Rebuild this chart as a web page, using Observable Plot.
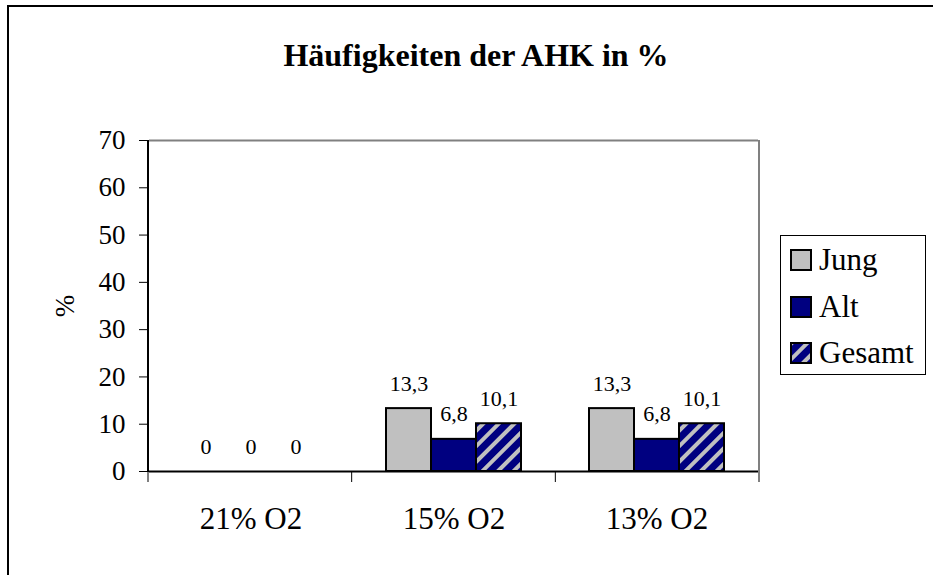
<!DOCTYPE html>
<html>
<head>
<meta charset="utf-8">
<script src="https://cdn.jsdelivr.net/npm/d3@7"></script>
<script src="https://cdn.jsdelivr.net/npm/@observablehq/plot@0.6"></script>
<style>
  html, body { margin: 0; padding: 0; background: #fff; overflow: hidden; }
  #page { position: relative; width: 933px; height: 575px; overflow: hidden; font-family: 'Liberation Serif', 'Times New Roman', serif; color: #000; }
  #outer-top { position: absolute; left: 7px; top: 5px; width: 926px; height: 2px; background: #000; }
  #outer-left { position: absolute; left: 7px; top: 5px; width: 2px; height: 570px; background: #000; }
  #chart { position: absolute; left: 0; top: 0; }
  #title { position: absolute; left: 0; width: 933px; top: 39px; text-align: center; font-weight: bold; font-size: 32px; line-height: 32px; white-space: nowrap; padding-left: 19px; box-sizing: border-box; }
  #legend { position: absolute; left: 780px; top: 235px; width: 146px; height: 140px; border: 1px solid #000; box-sizing: border-box; background: #fff; }
  .lg-row { position: absolute; left: 790px; height: 31px; font-size: 31px; line-height: 31px; white-space: nowrap; }
  .lg-row svg { position: absolute; left: 0; top: 5px; }
  .lg-row span { position: absolute; left: 29px; top: 0; }
</style>
</head>
<body>
<div id="page">
  <div id="outer-top"></div>
  <div id="outer-left"></div>
  <div id="chart"></div>
  <div id="title">Häufigkeiten der AHK in %</div>
  <div id="legend"></div>
  <div id="legend-rows"></div>
</div>
<script>
// ---- data ----
const categories = ["21% O2", "15% O2", "13% O2"];
const series = ["Jung", "Alt", "Gesamt"];
const jung = [0, 13.3, 13.3];
const alt = [0, 6.8, 6.8];
const gesamt = [0, 10.1, 10.1];
const yTicks = [0, 10, 20, 30, 40, 50, 60, 70];
const seriesColors = ["#c0c0c0", "#000080", "url(#hatch)"];
const yLabel = "%";

const valuesBySeries = {Jung: jung, Alt: alt, Gesamt: gesamt};
const rows = [];
categories.forEach((cat, i) => {
  series.forEach(s => rows.push({cat, series: s, value: valuesBySeries[s][i]}));
});
const fmt = v => String(v).replace(".", ",");

const plot = Plot.plot({
  width: 933,
  height: 575,
  marginLeft: 148,
  marginRight: 174,
  marginTop: 140,
  marginBottom: 104,
  style: {fontFamily: "'Liberation Serif', 'Times New Roman', serif", fontSize: "27px", background: "transparent", color: "#000"},
  fx: {domain: categories, paddingInner: 0, paddingOuter: 0, axis: null, label: null},
  x: {domain: series, paddingInner: 0, paddingOuter: 0.73, axis: null, label: null},
  y: {domain: [0, 70], ticks: yTicks, tickSize: 10, tickPadding: 14, label: yLabel, labelAnchor: "center", labelOffset: 95, labelArrow: "none", grid: false},
  color: {domain: series, range: seriesColors},
  marks: [
    Plot.ruleY([70], {stroke: "#808080", strokeWidth: 2}),
    Plot.barY(rows, {fx: "cat", x: "series", y: "value", fill: "series", stroke: "#000", strokeWidth: 2}),
    Plot.ruleY([0], {stroke: "#000", strokeWidth: 2}),
    Plot.text(rows, {fx: "cat", x: "series", y: "value", text: d => fmt(d.value), dy: -25, fontSize: 22, fill: "#000"}),
    Plot.text(categories, {fx: d => d, text: d => d, frameAnchor: "bottom", lineAnchor: "middle", dy: 48, fontSize: 31, fill: "#000"})
  ]
});

// hatch pattern definition
const svg = d3.select(plot);
const defs = svg.insert("defs", ":first-child");
const pat = defs.append("pattern")
  .attr("id", "hatch")
  .attr("patternUnits", "userSpaceOnUse")
  .attr("width", 11).attr("height", 11)
  .attr("patternTransform", "rotate(45)");
pat.append("rect").attr("width", 11).attr("height", 11).attr("fill", "#000080");
pat.append("rect").attr("width", 4).attr("height", 11).attr("fill", "#c0c0c0");

// frame decorations from the library's scales
const fxScale = plot.scale("fx");
const yScale = plot.scale("y");
const [fx0, fx1] = fxScale.range;
const [yBottom, yTop] = yScale.range;
const step = (fx1 - fx0) / categories.length;
const deco = svg.append("g");
deco.append("line").attr("x1", fx1).attr("x2", fx1).attr("y1", yTop).attr("y2", yBottom)
  .attr("stroke", "#808080").attr("stroke-width", 2);
deco.append("line").attr("x1", fx0).attr("x2", fx0).attr("y1", yTop).attr("y2", yBottom + 1)
  .attr("stroke", "#000").attr("stroke-width", 2);
for (let i = 0; i <= categories.length; i++) {
  const x = fx0 + i * step;
  deco.append("line").attr("x1", x).attr("x2", x).attr("y1", yBottom).attr("y2", yBottom + 11)
    .attr("stroke", "#000").attr("stroke-width", 1);
}

document.getElementById("chart").appendChild(plot);

// legend
const legendRows = d3.select("#legend-rows");
series.forEach((s, i) => {
  const row = legendRows.append("div").attr("class", "lg-row").style("top", (244 + i * 46.5) + "px");
  const sw = row.append("svg").attr("width", 22).attr("height", 22);
  sw.append("rect").attr("x", 1).attr("y", 1).attr("width", 20).attr("height", 20)
    .attr("fill", seriesColors[i]).attr("stroke", "#000").attr("stroke-width", 2);
  row.append("span").text(s);
});
</script>
</body>
</html>
